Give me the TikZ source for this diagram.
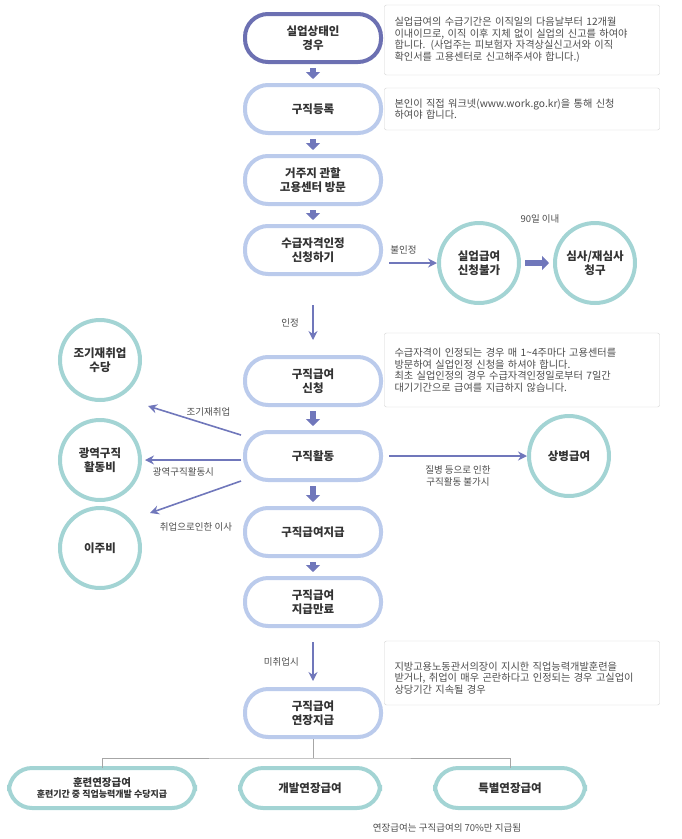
\documentclass[tikz,border=0pt]{standalone}
\usepackage{fontspec}
\setmainfont{Noto Sans CJK KR}
\usetikzlibrary{arrows.meta,shapes.geometric}
\definecolor{pill}{HTML}{BBCBEC}
\definecolor{dark}{HTML}{6C70B2}
\definecolor{teal}{HTML}{A3D4D4}
\definecolor{arr}{HTML}{7077BB}
\definecolor{txt}{HTML}{333333}
\begin{document}
\begin{tikzpicture}[x=1pt,y=-1pt,
  pill/.style={draw=pill,line width=4pt,rounded corners=23pt,minimum width=136pt,minimum height=48pt,align=center,font=\fontsize{11.5}{13.5}\selectfont\bfseries,text=txt},
  circ/.style={draw=teal,line width=4pt,circle,minimum size=80pt,align=center,font=\fontsize{11.5}{13.5}\selectfont\bfseries,text=txt,inner sep=0pt},
  tpill/.style={pill,draw=teal},
  box/.style={draw=black!18,rounded corners=2pt,text width=255pt,align=left,inner xsep=10pt,font=\fontsize{10.2}{11.5}\selectfont,text=black!70},
  blk/.style={-{Triangle[length=7pt,width=14pt]},line width=6pt,draw=arr,shorten >=4pt,shorten <=4pt},
  thin/.style={-{Stealth[length=9pt,width=9pt]},line width=1.6pt,draw=arr},
  lab/.style={font=\fontsize{9.5}{11.5}\selectfont,text=black!70}]
\useasboundingbox (0,0) rectangle (681,839);
\node[pill,draw=dark] (a) at (313,38) {실업상태인\\경우};
\node[pill] (b) at (313,109) {구직등록};
\node[pill] (c) at (313,180) {거주지 관할\\고용센터 방문};
\node[pill] (d) at (313,250) {수급자격인정\\신청하기};
\node[pill] (e) at (313,381) {구직급여\\신청};
\node[pill] (f) at (313,456) {구직활동};
\node[pill] (g) at (313,532) {구직급여지급};
\node[pill] (h) at (313,602) {구직급여\\지급만료};
\node[pill] (i) at (313,713) {구직급여\\연장지급};
\node[tpill,minimum width=186pt,minimum height=40pt,font=\fontsize{10.5}{12}\selectfont\bfseries] (j) at (102,788) {훈련연장급여\\[-1pt]{\fontsize{9}{10}\selectfont 훈련기간 중 직업능력개발 수당지급}};
\node[tpill,minimum width=140pt,minimum height=40pt] (k) at (310,788) {개발연장급여};
\node[tpill,minimum width=150pt,minimum height=40pt] (l) at (510,788) {특별연장급여};
\node[lab] (note) at (447,828) {연장급여는 구직급여의 70\%만 지급됨};
\node[circ] (m) at (479,263) {실업급여\\신청불가};
\node[circ] (n) at (595,263) {심사/재심사\\청구};
\node[lab] (n90) at (540,219) {90일 이내};
\node[circ] (p) at (100,360) {조기재취업\\수당};
\node[circ] (q) at (100,460) {광역구직\\활동비};
\node[circ] (r) at (100,548) {이주비};
\node[circ] (s) at (569,456) {상병급여};
\node[box,minimum height=70pt] (b1) at (522,40) {실업급여의 수급기간은 이직일의 다음날부터 12개월\\이내이므로, 이직 이후 지체 없이 실업의 신고를 하여야\\합니다. (사업주는 피보험자 자격상실신고서와 이직\\확인서를 고용센터로 신고해주셔야 합니다.)};
\node[box,minimum height=42pt] (b2) at (522,109) {본인이 직접 워크넷(www.work.go.kr)을 통해 신청\\하여야 합니다.};
\node[box,minimum height=74pt] (b3) at (522,370) {수급자격이 인정되는 경우 매 1\textasciitilde4주마다 고용센터를\\방문하여 실업인정 신청을 하셔야 합니다.\\최초 실업인정의 경우 수급자격인정일로부터 7일간\\대기기간으로 급여를 지급하지 않습니다.};
\node[box,minimum height=64pt,text depth=14pt] (b4) at (522,673) {지방고용노동관서의장이 지시한 직업능력개발훈련을\\받거나, 취업이 매우 곤란하다고 인정되는 경우 고실업이\\상당기간 지속될 경우};
\draw[blk] (a) -- (b);
\draw[blk] (b) -- (c);
\draw[blk] (c) -- (d);
\draw[blk] (e) -- (f);
\draw[blk] (f) -- (g);
\draw[blk] (g) -- (h);
\draw[blk] (m) -- (n);
\coordinate (d1) at (313,305); \coordinate (d2) at (313,340);
\draw[thin] (d1) -- node[lab,left=10pt] {인정} (d2);
\coordinate (h1) at (313,642); \coordinate (h2) at (313,681);
\draw[thin] (h1) -- node[lab,left=10pt] {미취업시} (h2);
\coordinate (x1) at (389,263);
\draw[thin] (x1) -- node[lab,above=5pt,pos=0.3] {불인정} (m);
\coordinate (f0) at (241,435); \coordinate (f1) at (241,460); \coordinate (f2) at (241,481);
\coordinate (pt) at (148,406); \coordinate (qt) at (145,460); \coordinate (rt) at (150,513);
\draw[thin] (f0) -- node[lab,above=4pt,pos=0.35] {조기재취업} (pt);
\draw[thin] (f1) -- node[lab,below=3pt,pos=0.6] {광역구직활동시} (qt);
\draw[thin] (f2) -- (rt);
\node[lab] (lr) at (196,527) {취업으로인한 이사};
\coordinate (s0) at (389,456);
\draw[thin] (s0) -- node[lab,below=6pt,align=center] {질병 등으로 인한\\구직활동 불가시} (s);
\coordinate (bus) at (313,758);
\draw[black!35,line width=0.8pt] (i) -- (bus) (102,768) |- (bus) -| (510,768);
\end{tikzpicture}
\end{document}
